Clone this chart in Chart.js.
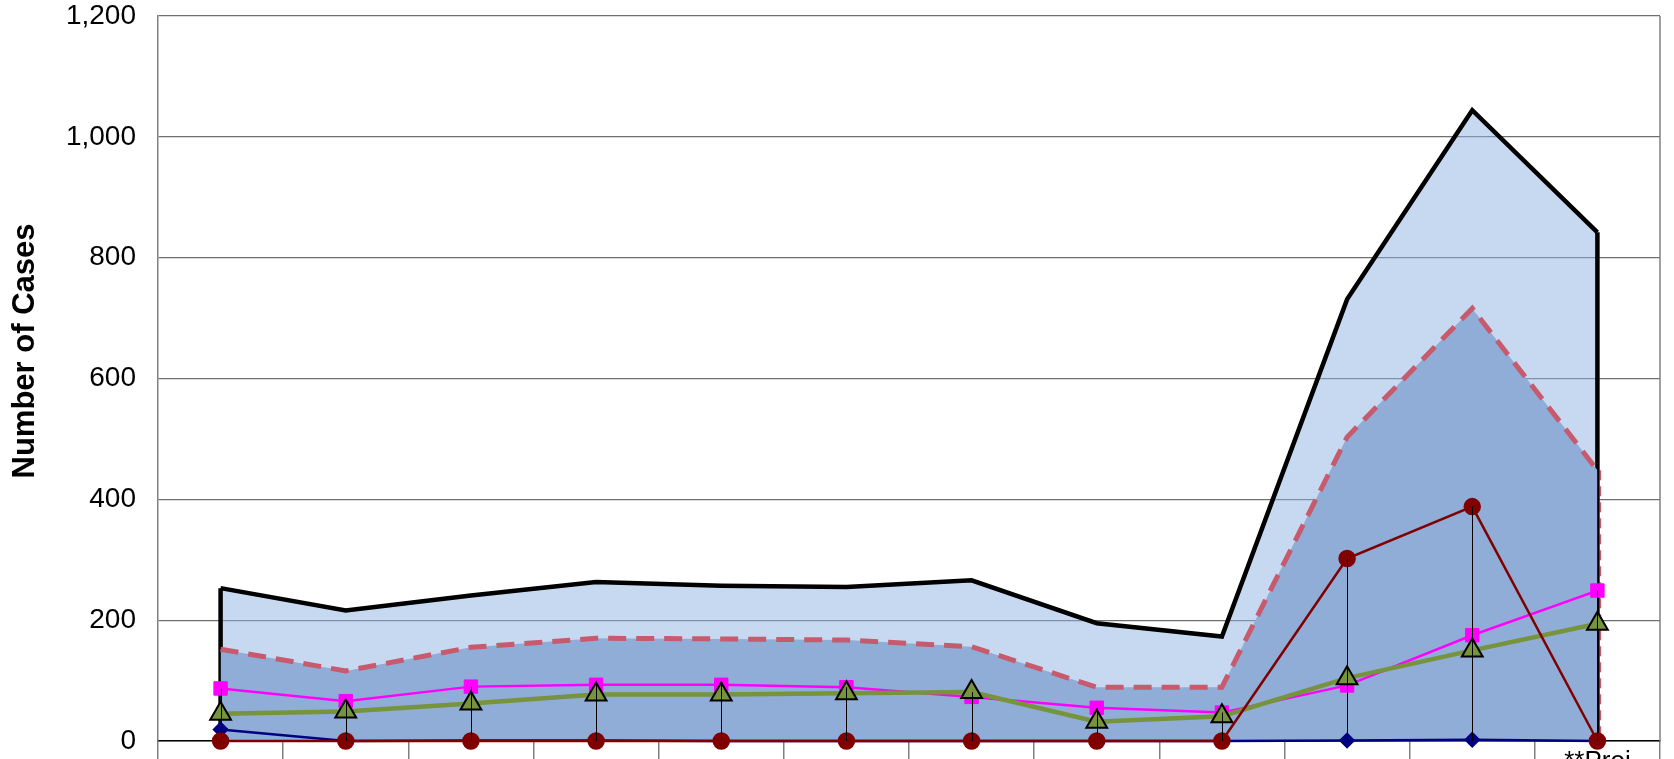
<!DOCTYPE html>
<html>
<head>
<meta charset="utf-8">
<script src="https://cdn.jsdelivr.net/npm/chart.js@4/dist/chart.umd.min.js"></script>
<style>
  html, body { margin: 0; padding: 0; background: #fff; overflow: hidden; }
  #wrap { width: 1674px; height: 800px; }
</style>
</head>
<body>
<div id="wrap"><canvas id="casesChart" width="1674" height="800"></canvas></div>
<script>
// ---------- data ----------
const categories = ["", "", "", "", "", "", "", "", "", "", "", "**Proj"];
const totalCases = [253, 216, 241, 263, 257, 255, 266, 195, 173, 731, 1044, 842];
const dashedCases = [152, 116, 155, 170, 169, 167, 156, 89, 89, 503, 716, 448];
const magentaCases = [87, 66, 90, 93, 93, 89, 73, 55, 47, 92, 175, 249];
const oliveCases = [45, 49, 62, 77, 77, 79, 81, 32, 41, 104, 150, 194];
const redCases = [0, 0, 0, 0, 0, 0, 0, 0, 0, 302, 388, 0];
const navyCases = [19, 0, 1, 1, 0, 0, 0, 0, 0, 1, 2, 0];
const yTicks = [0, 200, 400, 600, 800, 1000, 1200];

const FONT = "'Liberation Sans', Arial, sans-serif";

// ---------- helper plugins ----------
// vertical edges of the two areas
const areaEdges = {
  id: "areaEdges",
  afterDatasetDraw(chart, args) {
    if (args.index !== 0) return;
    const { ctx, scales: { x, y } } = chart;
    const last = totalCases.length - 1;
    ctx.save();
    // thin dashed edge of the inner area on the right
    ctx.strokeStyle = "#C85A6E";
    ctx.lineWidth = 1.5;
    ctx.setLineDash([10, 6]);
    ctx.beginPath();
    ctx.moveTo(x.getPixelForValue(last) + 3, y.getPixelForValue(dashedCases[last]));
    ctx.lineTo(x.getPixelForValue(last) + 3, y.getPixelForValue(0));
    ctx.stroke();
    ctx.setLineDash([]);
    ctx.strokeStyle = "#000";
    ctx.lineWidth = 4.5;
    [0, last].forEach((i) => {
      ctx.beginPath();
      ctx.moveTo(x.getPixelForValue(i), y.getPixelForValue(totalCases[i]));
      ctx.lineTo(x.getPixelForValue(i), y.getPixelForValue(0));
      ctx.stroke();
    });
    ctx.restore();
  }
};

// drop lines from the highest line series down to the axis
const dropLines = {
  id: "dropLines",
  afterDatasetsDraw(chart) {
    const { ctx, scales: { x, y } } = chart;
    ctx.save();
    ctx.strokeStyle = "#000";
    ctx.lineWidth = 1;
    categories.forEach((c, i) => {
      const top = Math.max(magentaCases[i], oliveCases[i], redCases[i], navyCases[i]);
      const px = Math.round(x.getPixelForValue(i)) + 0.5;
      ctx.beginPath();
      ctx.moveTo(px, y.getPixelForValue(top));
      ctx.lineTo(px, y.getPixelForValue(0));
      ctx.stroke();
    });
    ctx.restore();
  }
};

// right border of the plot and the y title
const frame = {
  id: "frame",
  beforeDatasetsDraw(chart) {
    const { ctx, chartArea: a } = chart;
    ctx.save();
    ctx.strokeStyle = "#808080";
    ctx.lineWidth = 1.5;
    ctx.beginPath();
    ctx.moveTo(a.right, a.top);
    ctx.lineTo(a.right, a.bottom);
    ctx.stroke();
    ctx.restore();
  },
  afterDraw(chart) {
    const { ctx } = chart;
    ctx.save();
    ctx.translate(25, 351);
    ctx.rotate(-Math.PI / 2);
    ctx.font = "bold 31px " + FONT;
    ctx.fillStyle = "#000";
    ctx.textAlign = "center";
    ctx.textBaseline = "middle";
    ctx.fillText("Number of Cases", 0, 0);
    ctx.restore();
  }
};

// ---------- chart ----------
new Chart(document.getElementById("casesChart"), {
  type: "line",
  data: {
    labels: categories,
    datasets: [
      {
        data: totalCases,
        borderColor: "#000",
        borderWidth: 4.5,
        backgroundColor: "rgba(141,180,226,0.5)",
        fill: "origin",
        pointRadius: 0,
        tension: 0,
        order: 7
      },
      {
        data: dashedCases,
        borderColor: "#C85A6E",
        borderWidth: 5,
        borderDash: [18, 10],
        backgroundColor: "#8FADD6",
        fill: "origin",
        pointRadius: 0,
        tension: 0,
        order: 6
      },
      {
        data: magentaCases,
        borderColor: "#FF00FF",
        borderWidth: 2.5,
        pointStyle: "rect",
        pointRadius: 9.5,
        pointBackgroundColor: "#FF00FF",
        pointBorderColor: "#FF00FF",
        pointBorderWidth: 1,
        order: 4
      },
      {
        data: oliveCases,
        borderColor: "#77933C",
        borderWidth: 4.5,
        pointStyle: "triangle",
        pointRadius: 12,
        pointBackgroundColor: "#77933C",
        pointBorderColor: "#000",
        pointBorderWidth: 2,
        order: 3
      },
      {
        data: navyCases,
        borderColor: "#000080",
        borderWidth: 2.5,
        pointStyle: "rectRot",
        pointRadius: 6.5,
        pointBackgroundColor: "#000080",
        pointBorderColor: "#000080",
        clip: false,
        order: 2
      },
      {
        data: redCases,
        borderColor: "#800000",
        borderWidth: 2.5,
        pointStyle: "circle",
        pointRadius: 7.5,
        pointBackgroundColor: "#800000",
        pointBorderColor: "#800000",
        clip: false,
        order: 1
      }
    ]
  },
  options: {
    responsive: false,
    animation: false,
    devicePixelRatio: 1,
    layout: { padding: { top: 16, right: 7, left: 0, bottom: 0 } },
    plugins: {
      legend: { display: false },
      tooltip: { enabled: false }
    },
    scales: {
      x: {
        offset: true,
        grid: {
          offset: true,
          drawOnChartArea: false,
          drawTicks: true,
          tickLength: 40,
          color: "#808080",
          lineWidth: 1.5
        },
        border: { color: "#000", width: 1.5 },
        ticks: {
          autoSkip: false,
          maxRotation: 0,
          padding: -35,
          color: "#000",
          font: { family: FONT, size: 26 }
        },
        afterFit(scale) {
          scale.height = 59;
          scale.paddingLeft = 0;
          scale.paddingRight = 0;
        }
      },
      y: {
        min: 0,
        max: 1200,
        afterBuildTicks(scale) {
          scale.ticks = yTicks.map((v) => ({ value: v }));
        },
        grid: { color: "#6f6f6f", lineWidth: 1.3, drawTicks: false },
        border: { color: "#808080", width: 1.5 },
        ticks: {
          padding: 22,
          color: "#000",
          font: { family: FONT, size: 28 },
          callback: (v) => v.toLocaleString("en-US")
        },
        afterFit(scale) {
          scale.width = 158;
          scale.paddingTop = 0;
          scale.paddingBottom = 0;
        }
      }
    }
  },
  plugins: [areaEdges, dropLines, frame]
});
</script>
</body>
</html>
